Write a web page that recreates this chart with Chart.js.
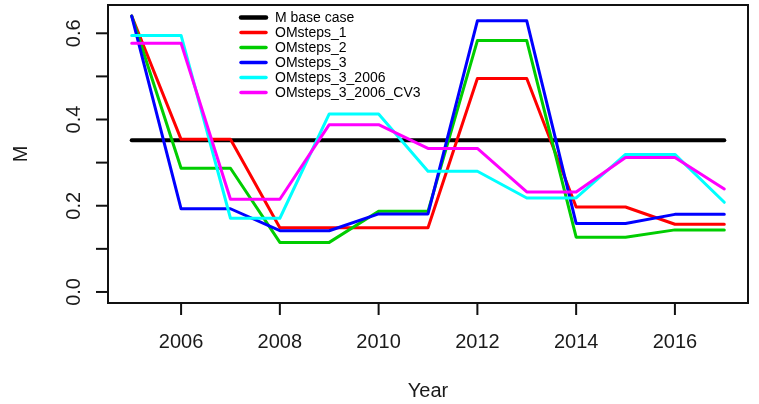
<!DOCTYPE html>
<html>
<head>
<meta charset="utf-8">
<script src="https://cdn.jsdelivr.net/npm/chart.js@4.4.1/dist/chart.umd.min.js"></script>
<style>
  body { margin: 0; background: #fff; }
  canvas { display: block; }
</style>
</head>
<body>
<canvas id="grafico" width="759" height="404"></canvas>
<script>
// data
var anos = [2005, 2006, 2007, 2008, 2009, 2010, 2011, 2012, 2013, 2014, 2015, 2016, 2017];
var baseCase = [0.352, 0.352, 0.352, 0.352, 0.352, 0.352, 0.352, 0.352, 0.352, 0.352, 0.352, 0.352, 0.352];
var omSteps1 = [0.640, 0.354, 0.354, 0.149, 0.149, 0.149, 0.149, 0.495, 0.495, 0.197, 0.197, 0.157, 0.157];
var omSteps2 = [0.640, 0.287, 0.287, 0.115, 0.115, 0.187, 0.187, 0.583, 0.583, 0.127, 0.127, 0.144, 0.144];
var omSteps3 = [0.640, 0.193, 0.193, 0.142, 0.142, 0.181, 0.181, 0.629, 0.629, 0.159, 0.159, 0.180, 0.180];
var omSteps3_2006 = [0.595, 0.595, 0.171, 0.171, 0.413, 0.413, 0.280, 0.280, 0.218, 0.218, 0.319, 0.319, 0.208];
var omSteps3_2006_CV3 = [0.577, 0.577, 0.215, 0.215, 0.388, 0.388, 0.333, 0.333, 0.232, 0.232, 0.312, 0.312, 0.239];

var nomes = ["M base case", "OMsteps_1", "OMsteps_2", "OMsteps_3", "OMsteps_3_2006", "OMsteps_3_2006_CV3"];
var cores = ["#000000", "#FF0000", "#00CD00", "#0000FF", "#00FFFF", "#FF00FF"];
var series = [baseCase, omSteps1, omSteps2, omSteps3, omSteps3_2006, omSteps3_2006_CV3];

var ticksX = [2006, 2008, 2010, 2012, 2014, 2016];
var ticksY = [0.0, 0.1, 0.2, 0.3, 0.4, 0.5, 0.6];
var rotulosY = ["0.0", "", "0.2", "", "0.4", "", "0.6"];

var datasets = series.map(function (s, i) {
    return {
        label: nomes[i],
        data: s.map(function (v, k) { return { x: anos[k], y: v }; }),
        borderColor: cores[i],
        backgroundColor: cores[i],
        borderWidth: i == 0 ? 4 : 3,
        pointRadius: 0,
        tension: 0,
        borderCapStyle: 'round',
        borderJoinStyle: 'round',
        order: -i
    };
});

// R style box, axes and legend drawn from the chart scales
var eixosR = {
    id: 'eixosR',
    afterDraw: function (chart) {
        var ctx = chart.ctx;
        var a = chart.chartArea;
        var sx = chart.scales.x, sy = chart.scales.y;
        ctx.save();
        ctx.strokeStyle = '#111';
        ctx.lineWidth = 2;
        ctx.strokeRect(a.left, a.top, a.right - a.left, a.bottom - a.top);

        ctx.fillStyle = '#1a1a1a';
        ctx.font = '20px "Liberation Sans", Arial, sans-serif';
        ctx.textAlign = 'center';
        ctx.textBaseline = 'middle';
        ticksX.forEach(function (t) {
            var px = sx.getPixelForValue(t);
            ctx.beginPath();
            ctx.moveTo(px, a.bottom);
            ctx.lineTo(px, a.bottom + 12);
            ctx.stroke();
            ctx.fillText(String(t), px, a.bottom + 39);
        });
        ticksY.forEach(function (t, i) {
            var py = sy.getPixelForValue(t);
            ctx.beginPath();
            ctx.moveTo(a.left, py);
            ctx.lineTo(a.left - 12, py);
            ctx.stroke();
            if (rotulosY[i]) {
                ctx.save();
                ctx.translate(a.left - 34, py);
                ctx.rotate(-Math.PI / 2);
                ctx.fillText(rotulosY[i], 0, 0);
                ctx.restore();
            }
        });
        // axis titles
        ctx.fillText('Year', (a.left + a.right) / 2, 391);
        ctx.save();
        ctx.translate(21, (a.top + a.bottom) / 2);
        ctx.rotate(-Math.PI / 2);
        ctx.fillText('M', 0, 0);
        ctx.restore();

        // legend
        ctx.font = '14px "Liberation Sans", Arial, sans-serif';
        ctx.textAlign = 'left';
        ctx.lineCap = 'round';
        nomes.forEach(function (n, i) {
            var y = 17.5 + i * 15;
            ctx.strokeStyle = cores[i];
            ctx.lineWidth = i == 0 ? 4.5 : 3.5;
            ctx.beginPath();
            ctx.moveTo(241, y);
            ctx.lineTo(266, y);
            ctx.stroke();
            ctx.fillStyle = '#000';
            ctx.fillText(n, 275, y + 0.5);
        });
        ctx.restore();
    }
};

new Chart(document.getElementById('grafico').getContext('2d'), {
    type: 'line',
    data: { datasets: datasets },
    options: {
        responsive: false,
        animation: false,
        layout: { padding: { left: 108, right: 11, top: 5, bottom: 101 } },
        plugins: { legend: { display: false }, tooltip: { enabled: false } },
        scales: {
            x: { type: 'linear', min: 2004.52, max: 2017.48, display: false },
            y: { type: 'linear', min: -0.0256, max: 0.6656, display: false }
        }
    },
    plugins: [eixosR]
});
</script>
</body>
</html>
